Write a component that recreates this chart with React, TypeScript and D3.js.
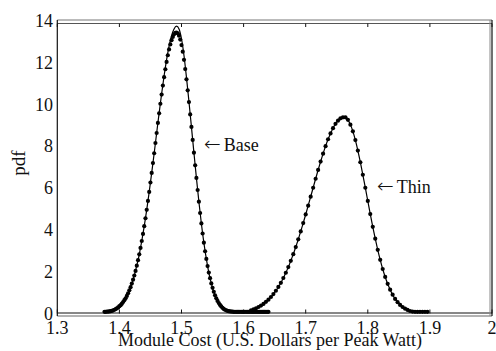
import * as d3 from "d3";

// axis ticks
const xTicks = [1.3, 1.4, 1.5, 1.6, 1.7, 1.8, 1.9, 2];
const yTicks = [0, 2, 4, 6, 8, 10, 12, 14];

// "Base" pdf: dotted samples (x from 1.376, step 0.002)
const baseDotStart = 1.376;
const baseDotStep = 0.002;
const baseDots = [
  0.08, 0.08, 0.09, 0.09, 0.1, 0.11, 0.13, 0.15, 0.18, 0.21, 0.25, 0.29, 0.35, 0.4,
  0.47, 0.55, 0.64, 0.73, 0.84, 0.97, 1.11, 1.26, 1.43, 1.62, 1.82, 2.04, 2.29, 2.55,
  2.83, 3.14, 3.47, 3.81, 4.18, 4.56, 4.96, 5.39, 5.82, 6.27, 6.73, 7.2, 7.67, 8.16,
  8.64, 9.12, 9.58, 10.04, 10.48, 10.91, 11.31, 11.69, 12.04, 12.36, 12.64, 12.88, 13.08, 13.24, 13.36, 13.43, 13.45,
  13.41, 13.3, 13.11, 12.85, 12.53, 12.14, 11.7, 11.21, 10.68, 10.12, 9.53, 8.93, 8.31, 7.7, 7.09, 6.49, 5.91, 5.35, 4.81,
  4.31, 3.83, 3.39, 2.98, 2.61, 2.27, 1.96, 1.69, 1.44, 1.23, 1.04, 0.87, 0.73, 0.6, 0.5, 0.41, 0.34, 0.27, 0.22, 0.18, 0.15, 0.13, 0.11,
  0.1, 0.09, 0.09,
  0.08, 0.08, 0.08, 0.08, 0.08, 0.08, 0.08, 0.08, 0.08, 0.08, 0.08, 0.08, 0.08, 0.08, 0.08,
  0.08, 0.08, 0.08, 0.08, 0.08, 0.08, 0.08, 0.08, 0.08, 0.08, 0.08, 0.08, 0.08, 0.08,
];

// "Base" pdf: solid curve (x from 1.376, step 0.004)
const baseLineStart = 1.376;
const baseLineStep = 0.004;
const baseLine = [
  0.08, 0.09, 0.1, 0.13, 0.18, 0.25, 0.35, 0.47, 0.64, 0.84, 1.11, 1.43, 1.82,
  2.29, 2.83, 3.47, 4.18, 4.96, 5.82, 6.73, 7.67, 8.64, 9.6, 10.52, 11.38, 12.15, 12.8, 13.3, 13.62,
  13.75, 13.62, 13.15, 12.35, 11.3, 10.15, 8.93, 7.7, 6.49, 5.35, 4.31, 3.39, 2.61, 1.96, 1.44, 1.04, 0.73, 0.5, 0.34, 0.22, 0.15, 0.11,
  0.09,
  0.08, 0.08, 0.08, 0.08, 0.08, 0.08, 0.08, 0.08, 0.08, 0.08, 0.08, 0.08, 0.08, 0.08, 0.08,
];

// "Thin" pdf (x from 1.612, step 0.004), used for both curve and dots
const thinStart = 1.612;
const thinStep = 0.004;
const thin = [
  0.15, 0.2, 0.25, 0.31, 0.38, 0.46, 0.56, 0.66, 0.79, 0.93,
  1.09, 1.27, 1.47, 1.7, 1.95, 2.22, 2.52, 2.84, 3.18, 3.55,
  3.93, 4.33, 4.74, 5.16, 5.59, 6.02, 6.45, 6.87, 7.27, 7.65,
  8.01, 8.34, 8.62, 8.87, 9.08, 9.23, 9.34, 9.39,
  9.39, 9.27, 9.04, 8.72, 8.3, 7.8, 7.24, 6.64, 6.02, 5.39, 4.76, 4.15,
  3.58, 3.05, 2.57, 2.13, 1.75, 1.42, 1.14, 0.9, 0.7, 0.54, 0.41, 0.31, 0.23, 0.17, 0.12, 0.09,
  0.08, 0.08, 0.08, 0.08, 0.08, 0.08,
];

const toPoints = (vals: number[], start: number, step: number) =>
  vals.map((v, i) => [start + i * step, v] as [number, number]);

const font = "'Liberation Serif', 'Times New Roman', serif";
const arrowFont = "'DejaVu Sans', 'DejaVu Serif', sans-serif";

export default function App() {
  const width = 496;
  const height = 351;
  const left = 57.3, right = 492, top = 21, bottom = 313.5;

  const x = d3.scaleLinear().domain([1.3, 2]).range([left, right]);
  const y = d3.scaleLinear().domain([0, 14]).range([bottom, top]);

  const line = d3
    .line<[number, number]>()
    .x(d => x(d[0]))
    .y(d => y(d[1]))
    .curve(d3.curveMonotoneX);

  const basePts = toPoints(baseDots, baseDotStart, baseDotStep);
  const baseLinePts = toPoints(baseLine, baseLineStart, baseLineStep);
  const thinPts = toPoints(thin, thinStart, thinStep);

  return (
    <svg
      width={width}
      height={height}
      style={{ position: "absolute", left: 0, top: 0, background: "#fff" }}
      fontFamily={font}
    >
      <rect width={width} height={height} fill="#fff" />

      {/* frame (doubled edge as in the scan) */}
      <line x1={left} x2={right} y1={top - 1} y2={top - 1} stroke="#777" strokeWidth={1} />
      <line x1={left} x2={right} y1={top + 2.5} y2={top + 2.5} stroke="#555" strokeWidth={1} />
      <line x1={left} x2={right} y1={bottom - 0.5} y2={bottom - 0.5} stroke="#111" strokeWidth={1} />
      <line x1={left} x2={right} y1={bottom + 2.5} y2={bottom + 2.5} stroke="#666" strokeWidth={1} />
      <line x1={left} x2={left} y1={top - 1} y2={bottom + 2.5} stroke="#111" strokeWidth={1.2} />
      <line x1={right - 2} x2={right - 2} y1={top - 1} y2={bottom + 2.5} stroke="#888" strokeWidth={1} />
      <line x1={right} x2={right} y1={top - 1} y2={bottom + 2.5} stroke="#111" strokeWidth={1.2} />

      {/* x ticks */}
      {xTicks.map(t => (
        <g key={t}>
          <line x1={x(t)} x2={x(t)} y1={bottom} y2={bottom - 4} stroke="#111" />
          <line x1={x(t)} x2={x(t)} y1={top + 2.5} y2={top + 6} stroke="#111" />
          <text x={x(t)} y={334} fontSize={18} textAnchor="middle" fill="#111">
            {String(t)}
          </text>
        </g>
      ))}

      {/* y tick labels */}
      {yTicks.map(t => (
        <text key={t} x={53} y={y(t) + 6} fontSize={18} textAnchor="end" fill="#111">
          {String(t)}
        </text>
      ))}

      {/* curves */}
      <path d={line(baseLinePts) || ""} fill="none" stroke="#000" strokeWidth={1.2} />
      <path d={line(thinPts) || ""} fill="none" stroke="#000" strokeWidth={1.2} />
      {basePts.map((d, i) => (
        <circle key={"b" + i} cx={x(d[0])} cy={y(d[1])} r={2.1} fill="#000" />
      ))}
      {thinPts.map((d, i) => (
        <circle key={"t" + i} cx={x(d[0])} cy={y(d[1])} r={2.1} fill="#000" />
      ))}

      {/* annotations */}
      <text x={204} y={151} fontSize={18} fill="#111">
        <tspan fontFamily={arrowFont} fontSize={20} fontWeight={300}>←</tspan>
        <tspan dx={3}>Base</tspan>
      </text>
      <text x={377} y={193} fontSize={18} fill="#111">
        <tspan fontFamily={arrowFont} fontSize={20} fontWeight={300}>←</tspan>
        <tspan dx={3}>Thin</tspan>
      </text>

      {/* axis labels */}
      <text x={270} y={346} fontSize={18} textAnchor="middle" fill="#111">
        Module Cost (U.S. Dollars per Peak Watt)
      </text>
      <text
        transform={`translate(25,163) rotate(-90)`}
        fontSize={19}
        textAnchor="middle"
        fill="#111"
      >
        pdf
      </text>
    </svg>
  );
}
